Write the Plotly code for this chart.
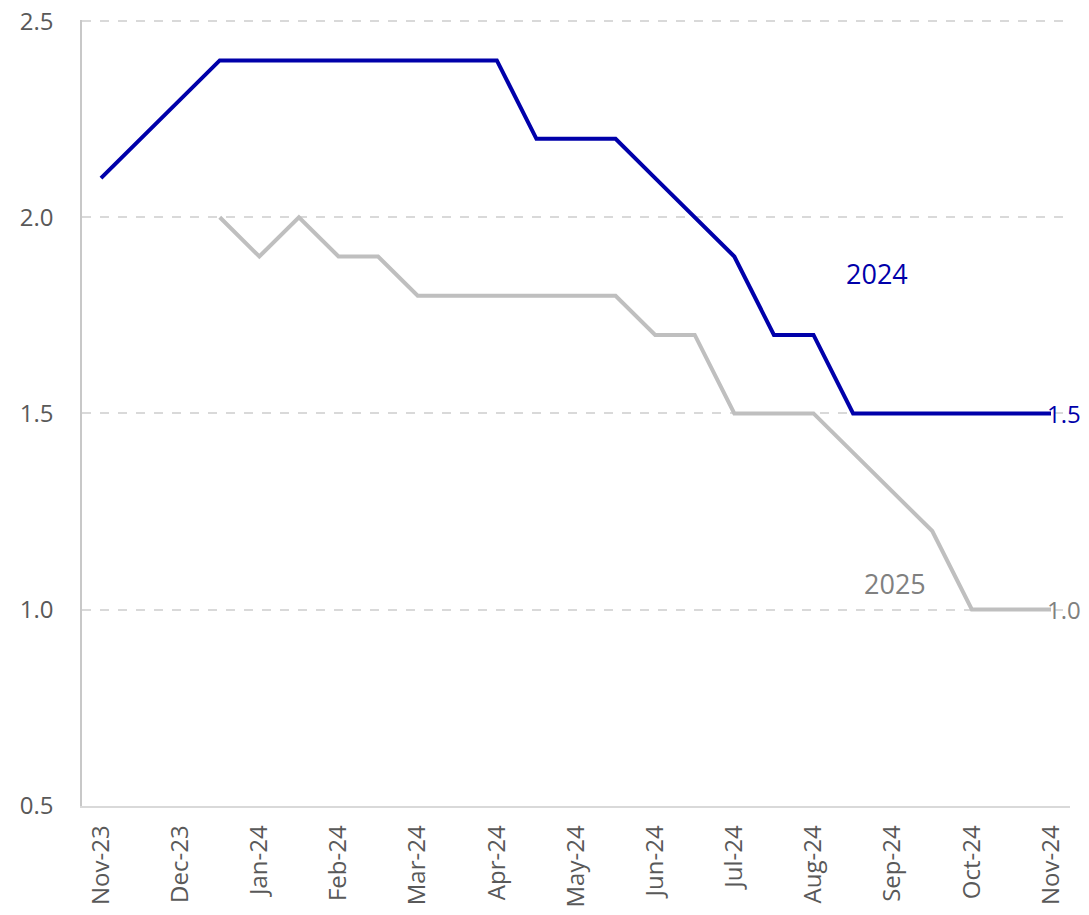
import plotly.graph_objects as go

# half-monthly observations, Nov-23 .. Nov-24
periods = list(range(25))
month_labels = ["Nov-23", "Dec-23", "Jan-24", "Feb-24", "Mar-24", "Apr-24", "May-24",
                "Jun-24", "Jul-24", "Aug-24", "Sep-24", "Oct-24", "Nov-24"]
month_pos = periods[::2]

rate_2024 = [2.1, 2.2, 2.3, 2.4, 2.4, 2.4, 2.4, 2.4, 2.4, 2.4, 2.4, 2.2, 2.2,
             2.2, 2.1, 2.0, 1.9, 1.7, 1.7, 1.5, 1.5, 1.5, 1.5, 1.5, 1.5]
rate_2025 = [None, None, None, 2.0, 1.9, 2.0, 1.9, 1.9, 1.8, 1.8, 1.8, 1.8, 1.8,
             1.8, 1.7, 1.7, 1.5, 1.5, 1.5, 1.4, 1.3, 1.2, 1.0, 1.0, 1.0]

BLUE = "#0000AA"
GREY = "#BFBFBF"
LABEL_GREY = "#808080"
TEXT = "#595959"
FONT = "Open Sans"


def main():
    fig = go.Figure()
    fig.add_trace(go.Scatter(x=periods, y=rate_2025, mode="lines", name="2025",
                             line=dict(color=GREY, width=4), connectgaps=False))
    fig.add_trace(go.Scatter(x=periods, y=rate_2024, mode="lines", name="2024",
                             line=dict(color=BLUE, width=4)))

    # series labels
    fig.add_annotation(x=19.6, y=1.856, text="2024", showarrow=False,
                       font=dict(color=BLUE, size=27, family=FONT))
    fig.add_annotation(x=20.05, y=1.067, text="2025", showarrow=False,
                       font=dict(color=LABEL_GREY, size=27, family=FONT))
    # end-point value labels
    fig.add_annotation(x=periods[-1], y=rate_2024[-1], text=f"{rate_2024[-1]:.1f}",
                       showarrow=False, xanchor="left", xshift=-6,
                       font=dict(color=BLUE, size=24, family=FONT))
    fig.add_annotation(x=periods[-1], y=rate_2025[-1], text=f"{rate_2025[-1]:.1f}",
                       showarrow=False, xanchor="left", xshift=-6,
                       font=dict(color=LABEL_GREY, size=24, family=FONT))

    # page body has an 8px margin, so the figure is sized to fit inside the window
    fig.update_layout(
        width=1073, height=899,
        margin=dict(l=74, r=11, t=12, b=101),
        plot_bgcolor="white", paper_bgcolor="white",
        showlegend=False,
        font=dict(family=FONT, color=TEXT, size=24),
    )
    fig.update_xaxes(
        range=[-0.48, 24.48],
        tickvals=month_pos, ticktext=month_labels, tickangle=-90,
        showgrid=False, zeroline=False, automargin=False,
        showline=True, linecolor="#D9D9D9", linewidth=1.5,
        ticks="", ticklabelstandoff=8, ticklabeloverflow="allow",
        tickfont=dict(size=24, color=TEXT, family=FONT),
    )
    fig.update_yaxes(
        range=[0.499, 2.503], tickvals=[0.5, 1.0, 1.5, 2.0, 2.5], tickformat=".1f",
        showgrid=True, gridcolor="#D9D9D9", griddash="dash", gridwidth=1.5,
        zeroline=False, showline=True, linecolor="#C8C8C8", linewidth=1.5,
        ticks="", ticklabelstandoff=22, automargin=False, ticklabeloverflow="allow",
        tickfont=dict(size=24, color=TEXT, family=FONT),
    )
    fig.write_html("out.html")


if __name__ == "__main__":
    main()
